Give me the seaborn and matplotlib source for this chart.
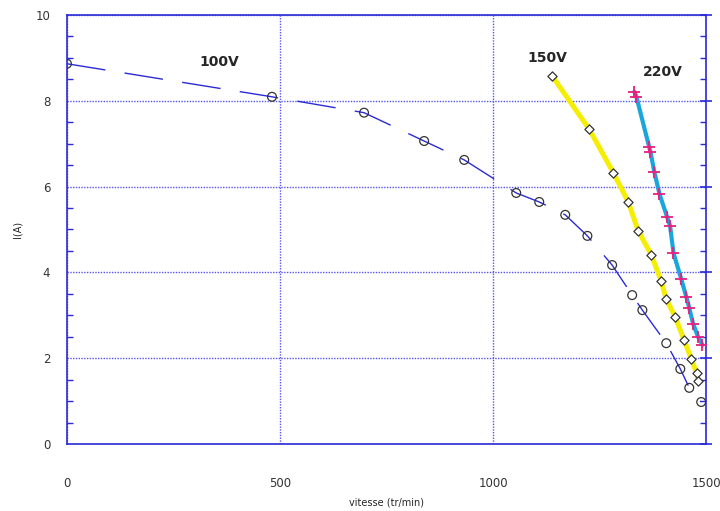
import numpy as np
import matplotlib
matplotlib.use("Agg")
import matplotlib.pyplot as plt
import seaborn as sns
from matplotlib.ticker import MultipleLocator

# 100 V : vitesse (tr/min) et courant I (A)
v100 = [0, 481, 697, 838, 932, 1054, 1108, 1169, 1221, 1279, 1326, 1350, 1406, 1439, 1460, 1488]
i100 = [8.86, 8.09, 7.72, 7.06, 6.62, 5.85, 5.64, 5.34, 4.85, 4.17, 3.47, 3.12, 2.35, 1.75, 1.31, 0.98]

# 150 V
v150 = [1138, 1225, 1282, 1317, 1340, 1371, 1394, 1406, 1427, 1448, 1465, 1477, 1481]
i150 = [8.58, 7.34, 6.32, 5.64, 4.97, 4.41, 3.80, 3.38, 2.96, 2.42, 1.98, 1.66, 1.47]

# 220 V
v220 = [1331, 1336, 1366, 1369, 1378, 1390, 1408, 1415, 1423, 1441, 1453, 1460, 1469, 1481, 1491]
i220 = [8.21, 8.09, 6.92, 6.81, 6.34, 5.83, 5.29, 5.08, 4.45, 3.85, 3.43, 3.17, 2.80, 2.49, 2.31]

labels = ["100V", "150V", "220V"]
label_pos = [(357, 8.9), (1127, 9.0), (1397, 8.67)]

sns.set_style("white")
plt.rcParams['font.family'] = ['DejaVu Sans']

blue = "#2b2bd6"
fig = plt.figure(figsize=(7.2, 5.11), dpi=100)
ax = fig.add_axes([0.093, 0.131, 0.888, 0.84])

# 100V: courbe en tirets + cercles
sns.lineplot(x=v100, y=i100, ax=ax, sort=False, color=blue, lw=1.0,
             linestyle=(0, (28, 14)), zorder=2)
sns.scatterplot(x=v100, y=i100, ax=ax, marker="o", s=40, facecolor="none",
                edgecolor="#333333", linewidth=0.9, zorder=4)

# 150V: trait jaune epais + losanges
sns.lineplot(x=v150, y=i150, ax=ax, sort=False, color="#f5ee00", lw=3.6,
             solid_capstyle="round", solid_joinstyle="round", zorder=2)
sns.scatterplot(x=v150, y=i150, ax=ax, marker="D", s=22, facecolor="white",
                edgecolor="#333333", linewidth=0.9, zorder=4)

# 220V: trait cyan + croix magenta
sns.lineplot(x=v220, y=i220, ax=ax, sort=False, color="#1aa6dc", lw=3.0,
             solid_capstyle="round", solid_joinstyle="round", zorder=2)
sns.scatterplot(x=v220, y=i220, ax=ax, marker="+", s=70, color="#e8207e",
                linewidth=1.3, zorder=4)

for lab, (x, y) in zip(labels, label_pos):
    ax.text(x, y, lab, fontsize=10, fontweight="bold", ha="center", va="center")

ax.set_xlim(0, 1500)
ax.set_ylim(0, 10)
ax.xaxis.set_major_locator(MultipleLocator(500))
ax.yaxis.set_major_locator(MultipleLocator(2))
ax.yaxis.set_minor_locator(MultipleLocator(0.5))

ax.grid(True, which="major", color="#5555ee", linestyle=(0, (1, 1)), lw=1.0)
for s in ax.spines.values():
    s.set_color(blue)
    s.set_linewidth(1.2)

ax.tick_params(axis="both", which="major", direction="inout", length=8,
               color=blue, width=1.2, labelsize=8.5, labelcolor="#333333")
ax.tick_params(axis="x", which="major", pad=20)
ax.tick_params(axis="y", which="major", pad=8)
ax.tick_params(axis="y", which="minor", direction="in", length=4,
               color=blue, width=1.0, left=True, right=True)
ax.tick_params(axis="y", which="major", right=True)

ax.set_xlabel("vitesse (tr/min)", fontsize=7, labelpad=5)
ax.set_ylabel("I(A)", fontsize=7)
ax.yaxis.set_label_coords(-0.07, 0.5)

fig.savefig("out.png", dpi=100)
